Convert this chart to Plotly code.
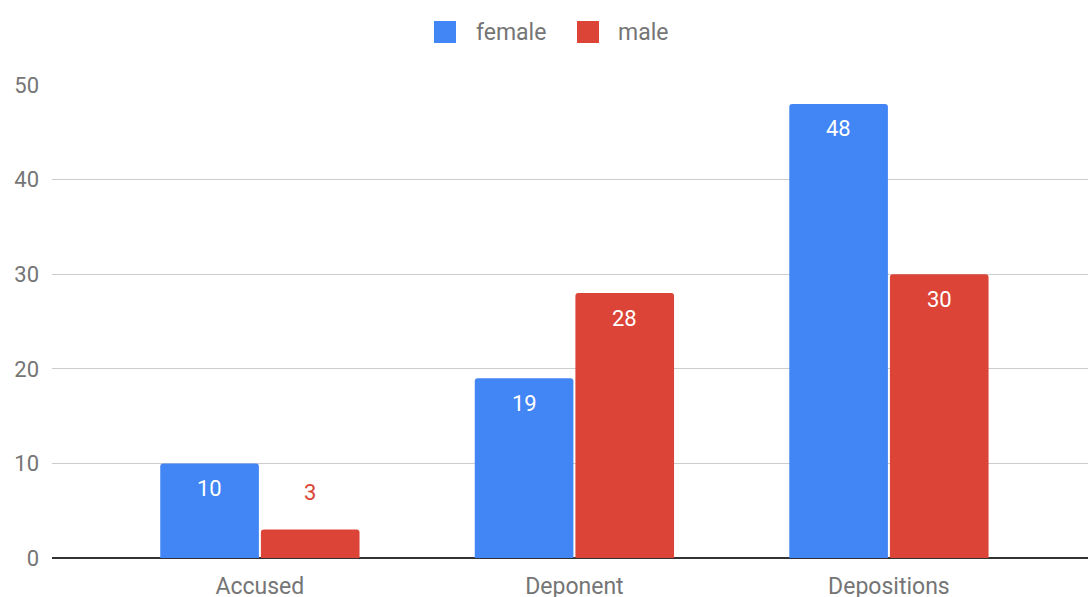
import plotly.graph_objects as go

# Data
categories = ["Accused", "Deponent", "Depositions"]
female = [10, 19, 48]
male = [3, 28, 30]
y_ticks = [0, 10, 20, 30, 40, 50]

series = [
    ("female", female, "#4285F4"),
    ("male", male, "#DB4437"),
]

# Layout constants
W, H = 1088, 597
M = dict(l=52, r=0, t=85, b=39)
BARGAP = 0.36
GROUPGAP = 0.02
X_RANGE = [-0.661, 2.633]
Y_RANGE = [0, 50]
FONT = "Roboto, Arial, sans-serif"
GREY = "#757575"

plot_w = W - M["l"] - M["r"]
plot_h = H - M["t"] - M["b"]


def px_to_paper(px, py):
    return (px - M["l"]) / plot_w, (H - M["b"] - py) / plot_h


fig = go.Figure()
for name, vals, color in series:
    fig.add_bar(
        x=categories,
        y=vals,
        name=name,
        marker=dict(color=color, line=dict(width=0), cornerradius=3),
        showlegend=False,
    )

# Value labels: white inside the bar top, or series colour above short bars
n = len(series)
slot = (1 - BARGAP) / n
annotations = []
for k, (name, vals, color) in enumerate(series):
    for i, v in enumerate(vals):
        xc = i - (1 - BARGAP) / 2 + slot * (k + 0.5)
        inside = v >= 5
        annotations.append(dict(
            x=xc, y=v, xref="x", yref="y",
            text=str(v), showarrow=False,
            yanchor="middle", xanchor="center",
            yshift=-25 if inside else 37,
            font=dict(family=FONT, size=22, color="white" if inside else color),
        ))

# Legend drawn at the top centre
legend_items = [("female", "#4285F4", 434, 474), ("male", "#DB4437", 577, 616)]
shapes = []
for label, color, sx, tx in legend_items:
    x0, y0 = px_to_paper(sx, 43)
    x1, y1 = px_to_paper(sx + 22, 21)
    shapes.append(dict(type="rect", xref="paper", yref="paper",
                       x0=x0, y0=y0, x1=x1, y1=y1,
                       fillcolor=color, line=dict(width=0)))
    tx_p, ty_p = px_to_paper(tx, 32)
    annotations.append(dict(
        x=tx_p, y=ty_p, xref="paper", yref="paper",
        text=label, showarrow=False, xanchor="left", yanchor="middle",
        font=dict(family=FONT, size=23, color=GREY),
    ))

fig.update_layout(
    width=W, height=H,
    margin=M,
    paper_bgcolor="white",
    plot_bgcolor="white",
    barmode="group",
    bargap=BARGAP,
    bargroupgap=GROUPGAP,
    font=dict(family=FONT, size=22, color=GREY),
    annotations=annotations,
    shapes=shapes,
    showlegend=False,
    xaxis=dict(
        type="category",
        range=X_RANGE,
        automargin=False,
        showgrid=False,
        showline=False,
        ticks="",
        tickfont=dict(family=FONT, size=23, color=GREY),
        ticklabelstandoff=12,
        fixedrange=True,
    ),
    yaxis=dict(
        range=Y_RANGE,
        tickvals=y_ticks,
        automargin=False,
        showgrid=True,
        gridcolor="#cccccc",
        gridwidth=1,
        zeroline=True,
        zerolinecolor="#333333",
        zerolinewidth=1.5,
        showline=False,
        ticks="",
        tickfont=dict(family=FONT, size=22, color=GREY),
        ticklabelstandoff=12,
        fixedrange=True,
    ),
)

fig.write_html("out.html", config=dict(displayModeBar=False))
